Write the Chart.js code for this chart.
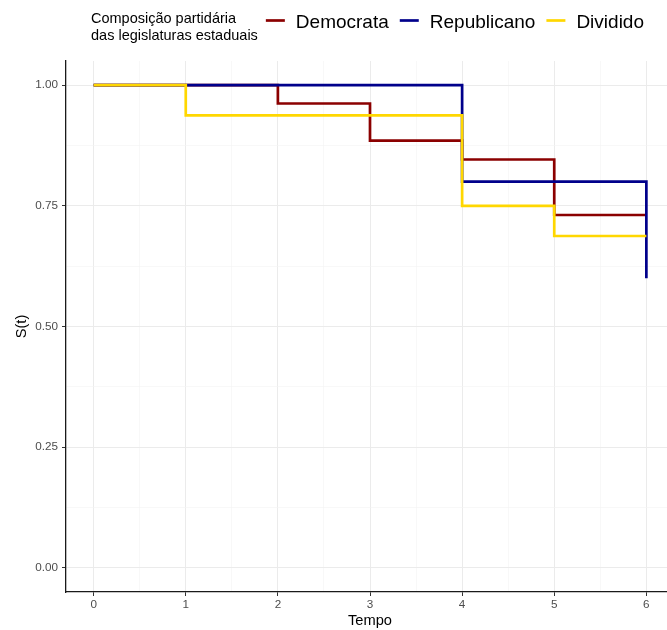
<!DOCTYPE html>
<html>
<head>
<meta charset="utf-8">
<script src="https://cdn.jsdelivr.net/npm/chart.js@4.4.1/dist/chart.umd.min.js"></script>
<style>
  html, body { margin: 0; padding: 0; background: #ffffff; overflow: hidden; width: 667px; height: 630px; }
  canvas { display: block; }
</style>
</head>
<body>
<canvas id="km" width="674" height="630"></canvas>
<script>
// Groups (state legislature party composition) and their line colours
const groupNames = ['Democrata', 'Republicano', 'Dividido'];
const groupColors = ['darkred', 'darkblue', 'gold'];
const legendTitle = ['Composição partidária', 'das legislaturas estaduais'];

// Kaplan-Meier survival estimates: event times and S(t) after each step
const democrataTime = [0, 2, 3, 4, 5, 6];
const democrataSurv = [1, 0.962, 0.885, 0.846, 0.731, 0.731];
const republicanoTime = [0, 4, 6];
const republicanoSurv = [1, 0.8, 0.6];
const divididoTime = [0, 1, 4, 5, 6];
const divididoSurv = [1, 0.9375, 0.75, 0.6875, 0.6875];

// Axis breaks and their labels
const xTicks = [0, 1, 2, 3, 4, 5, 6];
const xTickLabels = ['0', '1', '2', '3', '4', '5', '6'];
const yTicks = [0, 0.25, 0.5, 0.75, 1];
const yTickLabels = ['0.00', '0.25', '0.50', '0.75', '1.00'];

const FONT = '"Liberation Sans", Arial, Helvetica, sans-serif';

// minor breaks sit halfway between the major ones
function withMinor(major) {
  const out = [];
  major.forEach((v, i) => {
    out.push(v);
    if (i < major.length - 1) out.push((v + major[i + 1]) / 2);
  });
  return out;
}
const xAll = withMinor(xTicks);
const yAll = withMinor(yTicks);

function toPoints(times, surv) {
  return times.map((t, i) => ({ x: t, y: surv[i] }));
}
const seriesPoints = [
  toPoints(democrataTime, democrataSurv),
  toPoints(republicanoTime, republicanoSurv),
  toPoints(divididoTime, divididoSurv)
];

// later groups are painted above earlier ones
const datasets = groupNames.map((name, i) => ({
  label: name,
  data: seriesPoints[i],
  borderColor: groupColors[i],
  backgroundColor: groupColors[i],
  borderWidth: 2.7,
  stepped: true,
  pointRadius: 0,
  fill: false,
  order: groupNames.length - i
}));

function isMajor(list, v) { return list.indexOf(v) >= 0; }

// Legend across the top: two-line title, then line keys with labels
const topLegend = {
  id: 'topLegend',
  afterDraw(chart) {
    const ctx = chart.ctx;
    ctx.save();
    ctx.textAlign = 'left';
    ctx.textBaseline = 'alphabetic';
    ctx.fillStyle = '#000000';
    ctx.font = '14.5px ' + FONT;
    const x0 = 91;
    legendTitle.forEach((t, i) => ctx.fillText(t, x0, 23 + i * 16.5));
    let x = x0 + Math.max(...legendTitle.map(t => ctx.measureText(t).width)) + 8;
    ctx.font = '19px ' + FONT;
    groupNames.forEach((name, i) => {
      ctx.strokeStyle = groupColors[i];
      ctx.lineWidth = 2.7;
      ctx.lineCap = 'butt';
      ctx.beginPath();
      ctx.moveTo(x, 20.5);
      ctx.lineTo(x + 19, 20.5);
      ctx.stroke();
      x += 19 + 11;
      ctx.fillStyle = '#000000';
      ctx.fillText(name, x, 28);
      x += ctx.measureText(name).width + 11;
    });
    ctx.restore();
  }
};

new Chart(document.getElementById('km'), {
  type: 'line',
  data: { datasets },
  plugins: [topLegend],
  options: {
    responsive: false,
    animation: false,
    devicePixelRatio: 1,
    layout: { padding: { top: 61, left: 0, right: 0, bottom: 0 } },
    plugins: {
      legend: { display: false },
      tooltip: { enabled: false }
    },
    elements: { line: { tension: 0, borderCapStyle: 'butt', borderJoinStyle: 'miter' } },
    scales: {
      x: {
        type: 'linear',
        min: -0.3,
        max: 6.3,
        afterBuildTicks: (scale) => { scale.ticks = xAll.map(v => ({ value: v })); },
        afterFit: (scale) => { scale.height = 38; },
        ticks: {
          autoSkip: false,
          maxRotation: 0,
          padding: 1.5,
          color: '#4d4d4d',
          font: { family: FONT, size: 11.7 },
          callback: (v) => { const i = xTicks.indexOf(v); return i >= 0 ? xTickLabels[i] : ''; }
        },
        grid: {
          color: (c) => (c.tick && isMajor(xTicks, c.tick.value)) ? '#ebebeb' : '#f4f4f4',
          lineWidth: (c) => (c.tick && isMajor(xTicks, c.tick.value)) ? 1 : 0.6,
          tickColor: (c) => (c.tick && isMajor(xTicks, c.tick.value)) ? '#333333' : 'rgba(0,0,0,0)',
          tickWidth: 1,
          tickLength: 4
        },
        border: { display: true, color: '#1a1a1a', width: 1.3 },
        title: {
          display: true,
          text: 'Tempo',
          color: '#000000',
          font: { family: FONT, size: 14.67 },
          padding: { top: 0, bottom: 0 }
        }
      },
      y: {
        type: 'linear',
        min: -0.05,
        max: 1.05,
        afterBuildTicks: (scale) => { scale.ticks = yAll.map(v => ({ value: v })); },
        afterFit: (scale) => { scale.width = 66; },
        ticks: {
          autoSkip: false,
          padding: 4,
          color: '#4d4d4d',
          font: { family: FONT, size: 11.7 },
          callback: (v) => { const i = yTicks.indexOf(v); return i >= 0 ? yTickLabels[i] : ''; }
        },
        grid: {
          color: (c) => (c.tick && isMajor(yTicks, c.tick.value)) ? '#ebebeb' : '#f4f4f4',
          lineWidth: (c) => (c.tick && isMajor(yTicks, c.tick.value)) ? 1 : 0.6,
          tickColor: (c) => (c.tick && isMajor(yTicks, c.tick.value)) ? '#333333' : 'rgba(0,0,0,0)',
          tickWidth: 1,
          tickLength: 4
        },
        border: { display: true, color: '#1a1a1a', width: 1.3 },
        title: {
          display: true,
          text: 'S(t)',
          color: '#000000',
          font: { family: FONT, size: 14.67 },
          padding: { top: 13, bottom: 0 }
        }
      }
    }
  }
});
</script>
</body>
</html>
